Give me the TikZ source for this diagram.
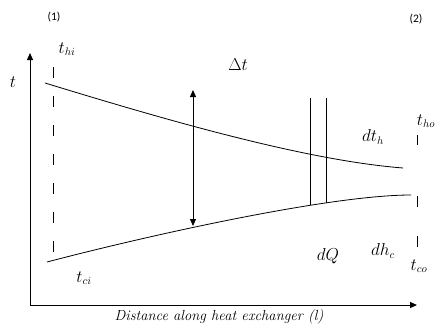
\documentclass[tikz,border=0pt]{standalone}
\usepackage{fontspec}
\newfontfamily\numfont{Carlito}
\usetikzlibrary{arrows.meta}

\begin{document}
\begin{tikzpicture}[x=1pt,y=-1pt,>={Triangle[length=7pt,width=6pt]},
  lbl/.style={font=\fontsize{16}{18}\selectfont,inner sep=0pt},
  endlbl/.style={font=\numfont\fontsize{11.5}{13}\selectfont,inner sep=0pt}]
  \useasboundingbox (0,0) rectangle (441,332);
  % axes
  \coordinate (O) at (30,305);
  \coordinate (ytop) at (30,53);
  \coordinate (xend) at (417,305);
  \draw[line width=1pt,->] (O) -- (ytop);
  \draw[line width=1pt,->] (O) -- (xend);
  % inlet and outlet ends
  \coordinate (inA) at (53,67);
  \coordinate (inB) at (53,257);
  \coordinate (outA) at (417,135);
  \coordinate (outB) at (417,247);
  \draw[line width=0.9pt,dash pattern=on 11pt off 18pt] (inA) -- (inB);
  \draw[line width=0.9pt,dash pattern=on 10pt off 51pt on 11pt off 29pt on 11pt] (outA) -- (outB);
  % hot and cold streams
  \coordinate (hi) at (45,83);
  \coordinate (ho) at (403,168);
  \coordinate (ci) at (47,262);
  \coordinate (co) at (411,195);
  \draw[line width=0.8pt] (hi) .. controls (150,115) and (300,160) .. (ho);
  \draw[line width=0.8pt] (ci) .. controls (150,235) and (330,195) .. (co);
  % element dQ
  \coordinate (sa1) at (310,98);
  \coordinate (sa2) at (310,205);
  \coordinate (sb1) at (326,98);
  \coordinate (sb2) at (326,203);
  \draw[line width=0.8pt] (sa1) -- (sa2);
  \draw[line width=0.8pt] (sb1) -- (sb2);
  % temperature difference
  \coordinate (dta) at (193,90);
  \coordinate (dtb) at (193,226);
  \draw[line width=1pt,<->] (dta) -- (dtb);
  % labels
  \node[endlbl] (one) at (54,17) {(1)};
  \node[endlbl] (two) at (416,19) {(2)};
  \node[lbl] (tlbl) at (13,82) {$t$};
  \node[lbl] (thi) at (67,49) {$t_{hi}$};
  \node[lbl] (dt) at (238,65) {$\Delta t$};
  \node[lbl] (tho) at (426,121) {$t_{ho}$};
  \node[lbl] (dth) at (373,137) {$dt_h$};
  \node[lbl] (dq) at (328,256) {$dQ$};
  \node[lbl] (dhc) at (383,251) {$dh_c$};
  \node[lbl] (tco) at (419,266) {$t_{co}$};
  \node[lbl] (tci) at (84,278) {$t_{ci}$};
  \node[lbl,font=\fontsize{14.6}{17}\selectfont\itshape] (xlbl) at (219,317) {Distance along heat exchanger (l)};
\end{tikzpicture}
\end{document}
